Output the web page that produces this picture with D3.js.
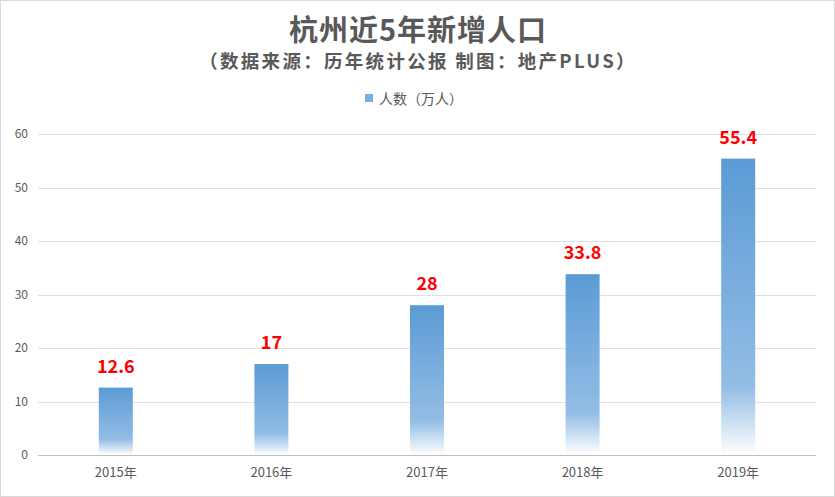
<!DOCTYPE html>
<html>
<head>
<meta charset="utf-8">
<script src="https://cdn.jsdelivr.net/npm/d3@7"></script>
<style>
  body { margin: 0; background: #fff; }
  svg { display: block; font-family: "Microsoft YaHei", "Noto Sans CJK SC", sans-serif; }
</style>
</head>
<body>
<svg id="chart"></svg>
<script>
var years = ['2015年', '2016年', '2017年', '2018年', '2019年'];
var people = [12.6, 17, 28, 33.8, 55.4];
var yTicks = [0, 10, 20, 30, 40, 50, 60];

var W = 835, H = 497;
var x0 = 38, x1 = 816, yTop = 134, yBot = 455;

var svg = d3.select('#chart').attr('width', W).attr('height', H);

svg.append('rect')
    .attr('x', 0.5).attr('y', 0.5)
    .attr('width', W - 1).attr('height', H - 1)
    .attr('fill', '#fff').attr('stroke', '#d9d9d9');

var xs = d3.scaleBand().domain(years).range([x0, x1]);
var ys = d3.scaleLinear().domain([0, 60]).range([yBot, yTop]);

var defs = svg.append('defs');
var grad = defs.append('linearGradient')
    .attr('id', 'barfill')
    .attr('x1', 0).attr('y1', 0).attr('x2', 0).attr('y2', 1);
grad.append('stop').attr('offset', '0%').attr('stop-color', '#5b9bd5');
grad.append('stop').attr('offset', '77%').attr('stop-color', '#93bde5');
grad.append('stop').attr('offset', '100%').attr('stop-color', '#ffffff');

// grid
svg.append('g').selectAll('line')
    .data(yTicks)
    .enter()
    .append('line')
        .attr('x1', x0).attr('x2', x1)
        .attr('y1', function(d) { return Math.round(ys(d)) + 0.5; })
        .attr('y2', function(d) { return Math.round(ys(d)) + 0.5; })
        .attr('stroke', function(d) { return d == 0 ? '#bfbfbf' : '#e0e0e0'; });

// y labels
svg.append('g').selectAll('text')
    .data(yTicks)
    .enter()
    .append('text')
        .attr('x', 28)
        .attr('y', function(d) { return ys(d) + 4; })
        .attr('text-anchor', 'end')
        .attr('font-size', 12)
        .attr('fill', '#595959')
        .text(function(d) { return d; });

// bars
var bw = 34;
svg.append('g').selectAll('rect')
    .data(people)
    .enter()
    .append('rect')
        .attr('x', function(d, i) { return xs(years[i]) + xs.bandwidth() / 2 - bw / 2; })
        .attr('y', function(d) { return ys(d); })
        .attr('width', bw)
        .attr('height', function(d) { return yBot - ys(d); })
        .attr('fill', 'url(#barfill)');

// value labels
svg.append('g').selectAll('text')
    .data(people)
    .enter()
    .append('text')
        .attr('x', function(d, i) { return xs(years[i]) + xs.bandwidth() / 2; })
        .attr('y', function(d) { return ys(d) - 15; })
        .attr('text-anchor', 'middle')
        .attr('font-size', 18)
        .attr('font-weight', 'bold')
        .attr('fill', '#ff0000')
        .text(function(d) { return d; });

// x labels
svg.append('g').selectAll('text')
    .data(years)
    .enter()
    .append('text')
        .attr('x', function(d) { return xs(d) + xs.bandwidth() / 2; })
        .attr('y', 477)
        .attr('text-anchor', 'middle')
        .attr('font-size', 13)
        .attr('fill', '#595959')
        .text(function(d) { return d; });

// titles
svg.append('text')
    .attr('x', 418).attr('y', 41)
    .attr('text-anchor', 'middle')
    .attr('font-size', 29).attr('font-weight', 'bold')
    .attr('letter-spacing', 1)
    .attr('fill', '#595959')
    .text('杭州近5年新增人口');
svg.append('text')
    .attr('x', 418).attr('y', 68)
    .attr('text-anchor', 'middle')
    .attr('font-size', 18.5).attr('font-weight', 'bold')
    .attr('letter-spacing', 2.3)
    .attr('fill', '#595959')
    .text('（数据来源：历年统计公报 制图：地产PLUS）');

// legend
svg.append('rect')
    .attr('x', 365).attr('y', 94).attr('width', 8).attr('height', 8)
    .attr('fill', '#7aaee0');
svg.append('text')
    .attr('x', 379).attr('y', 104)
    .attr('font-size', 14)
    .attr('fill', '#595959')
    .text('人数（万人）');
</script>
</body>
</html>
